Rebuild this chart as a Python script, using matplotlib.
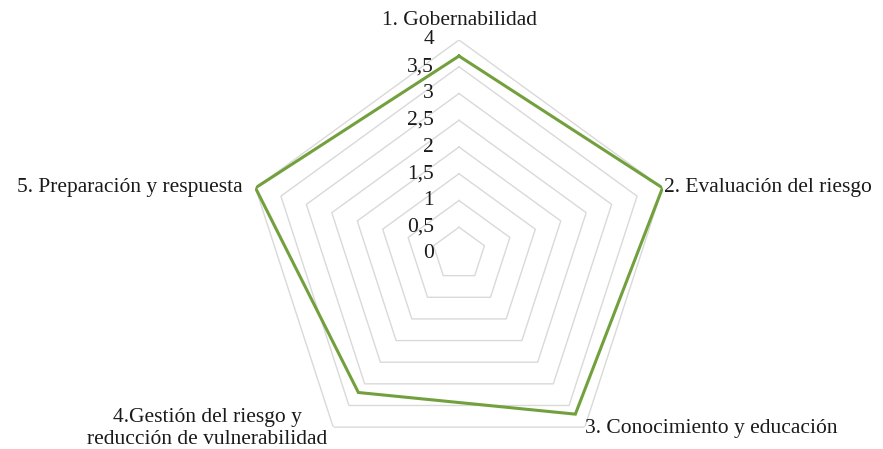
import matplotlib
import matplotlib.pyplot as plt
import numpy as np

matplotlib.use("Agg")

# Data
categories = [
    "1. Gobernabilidad",
    "2. Evaluación del riesgo",
    "3. Conocimiento y educación",
    "4.Gestión del riesgo y\nreducción de vulnerabilidad",
    "5. Preparación y respuesta",
]
values = [3.7, 4.0, 3.7, 3.2, 4.0]
ring_levels = [0.5, 1.0, 1.5, 2.0, 2.5, 3.0, 3.5, 4.0]
tick_values = [0, 0.5, 1, 1.5, 2, 2.5, 3, 3.5, 4]
tick_labels = ["0", "0,5", "1", "1,5", "2", "2,5", "3", "3,5", "4"]

plt.rcParams["font.family"] = ["Liberation Serif", "DejaVu Serif"]
text_color = "#1a1a1a"
grid_color = "#d9d9d9"
line_color = "#72a03c"
fs = 15.5

fig = plt.figure(figsize=(8.83, 4.49), dpi=100)
# center at (459, 254) px, radius 214 px
cx, cy, rad = 459, 254, 214
W, H = 883, 449
ax = fig.add_axes(
    [(cx - rad) / W, (H - cy - rad) / H, 2 * rad / W, 2 * rad / H],
    projection="polar",
)
ax.set_theta_offset(np.pi / 2)
ax.set_theta_direction(-1)
ax.set_ylim(0, 4)
ax.grid(False)
ax.spines["polar"].set_visible(False)
ax.set_xticks([])
ax.set_yticks([])
ax.patch.set_visible(False)

n = len(categories)
angles = np.linspace(0, 2 * np.pi, n, endpoint=False)
closed = np.append(angles, angles[0])

# pentagon grid
for lvl in ring_levels:
    ax.plot(closed, [lvl] * (n + 1), color=grid_color, lw=1.0, zorder=1)

# data polygon
vals = np.append(values, values[0])
ax.plot(closed, vals, color=line_color, lw=2.2, zorder=3, solid_joinstyle="miter")

# radial tick labels along the first axis
for v, lab in zip(tick_values, tick_labels):
    ax.annotate(
        lab, xy=(0, v), xytext=(-18, 0), textcoords="offset points",
        ha="right", va="center", fontsize=fs, color=text_color,
    )

# category labels
ax.annotate(categories[0], xy=(angles[0], 4), xytext=(0, 14),
            textcoords="offset points", ha="center", va="center",
            fontsize=fs, color=text_color)
ax.annotate(categories[1], xy=(angles[1], 4), xytext=(1, 0),
            textcoords="offset points", ha="left", va="center",
            fontsize=fs, color=text_color)
ax.annotate(categories[2], xy=(angles[2], 4), xytext=(0, -1),
            textcoords="offset points", ha="left", va="center",
            fontsize=fs, color=text_color)
ax.annotate(categories[3], xy=(angles[3], 4), xytext=(-4, -1),
            textcoords="offset points", ha="right", va="center",
            multialignment="center", fontsize=fs, color=text_color,
            linespacing=1.15)
ax.annotate(categories[4], xy=(angles[4], 4), xytext=(-9, 0),
            textcoords="offset points", ha="right", va="center",
            fontsize=fs, color=text_color)

plt.savefig("out.png", dpi=100)
plt.close()
